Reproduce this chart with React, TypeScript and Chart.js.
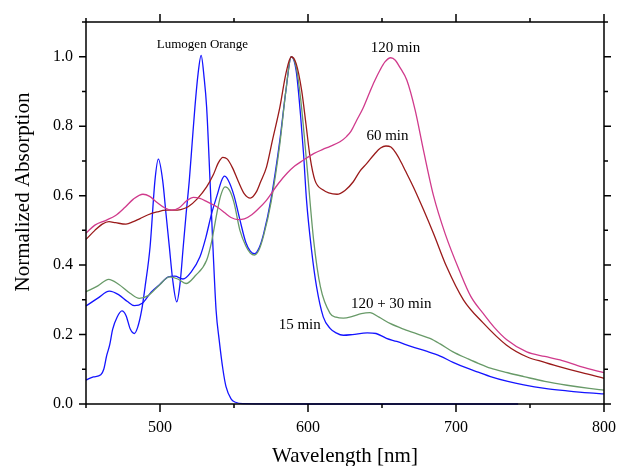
import React, { useEffect, useRef } from 'react';
import { Chart, registerables } from 'chart.js';

Chart.register(...registerables);

// ---- data (wavelength in nm, normalized absorption) ----
const lumogenWl = [450, 455, 460, 462, 464, 466, 468, 471, 474.3, 477, 480, 482.7, 485, 487.6, 490, 493.3, 496.6, 498.9, 501.8, 504, 506.3, 508.5, 511.3, 513.5, 515.7, 517.7, 519.8, 521.7, 523.6, 525.7, 527.8, 529.8, 531.5, 533.8, 535.8, 537.9, 540, 542.5, 544.6, 548, 551, 556, 600, 742];
const lumogenAbs = [0.069, 0.078, 0.084, 0.1, 0.14, 0.17, 0.215, 0.25, 0.268, 0.255, 0.215, 0.203, 0.222, 0.27, 0.34, 0.453, 0.644, 0.705, 0.644, 0.55, 0.453, 0.36, 0.294, 0.345, 0.453, 0.55, 0.644, 0.75, 0.855, 0.95, 1.004, 0.94, 0.855, 0.644, 0.45, 0.27, 0.184, 0.1, 0.05, 0.015, 0.005, 0.001, 0, 0];

const min15Wl = [450, 458, 465.8, 472, 478, 482.7, 488, 494, 500, 505.7, 510, 515.5, 521, 527, 531, 534.9, 538.5, 541.7, 543.5, 546, 550, 554, 558, 561, 563.8, 567, 570, 575, 581, 585, 588.7, 592, 595, 597, 599, 602.4, 605.8, 610.3, 614.9, 619, 623.9, 630, 640, 646, 653, 660, 670, 680, 689.3, 698, 707.6, 715, 723.3, 735, 745.8, 760, 775, 790, 800];
const min15Abs = [0.282, 0.305, 0.325, 0.315, 0.295, 0.283, 0.29, 0.322, 0.345, 0.366, 0.368, 0.36, 0.38, 0.424, 0.48, 0.549, 0.6, 0.644, 0.656, 0.645, 0.6, 0.53, 0.465, 0.44, 0.433, 0.45, 0.49, 0.59, 0.76, 0.9, 1.0, 0.96, 0.83, 0.72, 0.587, 0.443, 0.337, 0.251, 0.218, 0.205, 0.198, 0.2, 0.205, 0.203, 0.189, 0.18, 0.165, 0.152, 0.138, 0.12, 0.103, 0.092, 0.079, 0.065, 0.055, 0.045, 0.038, 0.032, 0.029];

const min150Wl = [450, 458, 465.3, 472, 480, 486, 492, 499, 506.4, 512, 517.6, 524, 531.5, 535, 538.4, 541, 544, 547, 550, 554, 558, 561, 563.8, 567, 570, 575, 581, 585, 588.7, 592, 595, 599, 603.8, 608.4, 614.9, 619, 623.9, 630, 636, 641.9, 648, 655.4, 665, 675, 682.4, 689.3, 698, 707.6, 715, 723.3, 735, 745.8, 760, 775, 790, 800];
const min150Abs = [0.323, 0.34, 0.359, 0.345, 0.318, 0.304, 0.312, 0.34, 0.366, 0.36, 0.347, 0.37, 0.414, 0.47, 0.549, 0.6, 0.625, 0.615, 0.58, 0.5, 0.455, 0.435, 0.429, 0.445, 0.485, 0.58, 0.75, 0.9, 1.0, 0.97, 0.88, 0.7, 0.472, 0.337, 0.261, 0.25, 0.247, 0.252, 0.26, 0.263, 0.25, 0.232, 0.215, 0.2, 0.189, 0.173, 0.15, 0.131, 0.117, 0.103, 0.09, 0.079, 0.065, 0.054, 0.045, 0.04];

const min60Wl = [450, 456, 461, 465.5, 470, 477, 482, 486.5, 492, 498, 504, 509, 514, 519, 525, 531.5, 536, 539.5, 542.5, 545.5, 549, 553, 557, 561, 565, 568, 572, 576, 581, 585, 588.7, 592, 595.7, 598.6, 601.4, 604.7, 610.3, 614, 619.6, 625, 630.6, 635, 639.6, 645, 649, 652.7, 656, 659, 662.2, 666, 671.2, 678, 684.8, 693.7, 705, 718, 734, 747.8, 760, 770.3, 785, 800];
const min60Abs = [0.474, 0.5, 0.518, 0.525, 0.522, 0.518, 0.525, 0.534, 0.545, 0.553, 0.558, 0.558, 0.56, 0.568, 0.59, 0.625, 0.66, 0.695, 0.71, 0.705, 0.68, 0.64, 0.605, 0.593, 0.61, 0.64, 0.683, 0.76, 0.855, 0.95, 1.0, 0.98, 0.903, 0.807, 0.711, 0.644, 0.616, 0.608, 0.604, 0.615, 0.64, 0.67, 0.692, 0.72, 0.737, 0.743, 0.74, 0.725, 0.702, 0.67, 0.625, 0.56, 0.491, 0.395, 0.3, 0.235, 0.17, 0.136, 0.12, 0.107, 0.09, 0.074];

const min120Wl = [450, 456, 463.5, 470, 476, 482, 488.5, 493, 498, 503, 508, 513, 518, 522.6, 527, 532, 538.4, 544, 548, 552.5, 557, 562, 566, 571.6, 580, 586, 591, 596.8, 603.8, 610, 615, 621.6, 626, 629, 632.9, 637, 641.9, 645, 648.6, 652, 655.9, 659, 662, 666.8, 672.4, 678, 684.8, 692.7, 702.7, 710, 718.5, 726, 734.3, 747.8, 760, 770.3, 785, 800];
const min120Abs = [0.492, 0.515, 0.529, 0.543, 0.565, 0.59, 0.604, 0.598, 0.58, 0.565, 0.558, 0.565, 0.585, 0.595, 0.592, 0.582, 0.568, 0.55, 0.537, 0.531, 0.533, 0.545, 0.56, 0.585, 0.635, 0.665, 0.685, 0.702, 0.721, 0.733, 0.742, 0.755, 0.77, 0.785, 0.817, 0.85, 0.9, 0.93, 0.961, 0.985, 0.997, 0.99, 0.97, 0.932, 0.846, 0.731, 0.6, 0.49, 0.38, 0.31, 0.26, 0.22, 0.185, 0.15, 0.137, 0.127, 0.107, 0.09];

const annotationTexts = ['Lumogen Orange', '120 min', '60 min', '120 + 30 min', '15 min'];
const annotationX = [528.7, 659.1, 653.7, 656.2, 594.4];
const annotationY = [1.025, 1.013, 0.76, 0.276, 0.215];
const annotationSizes = [13, 15, 15, 15, 15];

const yTitle = 'Normalized Absorption';
const xTitle = 'Wavelength [nm]';

const SERIF = "'Liberation Serif', 'Times New Roman', serif";

const toPts = (xs: number[], ys: number[]) => xs.map((x, i) => ({ x, y: ys[i] }));

const framePlugin = {
  id: 'frame',
  afterDraw(chart: any) {
    const { ctx, chartArea } = chart;
    const { left, right, top, bottom } = chartArea;
    const xs = chart.scales.x;
    const ys = chart.scales.y;
    ctx.save();
    ctx.strokeStyle = '#000';
    ctx.lineWidth = 1.5;
    ctx.beginPath();
    ctx.rect(left, top, right - left, bottom - top);
    xs.ticks.forEach((t: any) => {
      const px = xs.getPixelForValue(t.value);
      const major = Math.round(t.value) % 100 === 0;
      const len = major ? 8 : 4;
      ctx.moveTo(px, bottom);
      ctx.lineTo(px, bottom + len);
      ctx.moveTo(px, top);
      ctx.lineTo(px, top - len);
    });
    ys.ticks.forEach((t: any) => {
      const py = ys.getPixelForValue(t.value);
      const major = Math.round(t.value * 10) % 2 === 0;
      const len = major ? 7 : 4;
      ctx.moveTo(left, py);
      ctx.lineTo(left - len, py);
      ctx.moveTo(right, py);
      ctx.lineTo(right + len, py);
    });
    ctx.stroke();

    ctx.fillStyle = '#000';
    ctx.textAlign = 'center';
    ctx.textBaseline = 'alphabetic';
    annotationTexts.forEach((txt, i) => {
      ctx.font = `${annotationSizes[i]}px ${SERIF}`;
      ctx.fillText(txt, xs.getPixelForValue(annotationX[i]), ys.getPixelForValue(annotationY[i]));
    });

    // axis titles
    ctx.font = `21px ${SERIF}`;
    ctx.fillText(xTitle, (left + right) / 2, 462);
    ctx.translate(29, (top + bottom) / 2 - 21);
    ctx.rotate(-Math.PI / 2);
    ctx.fillText(yTitle, 0, 0);
    ctx.restore();
  },
};

export default function App() {
  const ref = useRef<HTMLCanvasElement | null>(null);

  useEffect(() => {
    if (!ref.current) return;
    const mk = (label: string, xs: number[], ys: number[], color: string) => ({
      label,
      data: toPts(xs, ys),
      borderColor: color,
      backgroundColor: color,
      borderWidth: 1.3,
      pointRadius: 0,
      fill: false,
      cubicInterpolationMode: 'monotone' as const,
      clip: false as const,
    });
    const chart = new Chart(ref.current, {
      type: 'line',
      data: {
        datasets: [
          mk('120 min', min120Wl, min120Abs, '#d03a8c'),
          mk('60 min', min60Wl, min60Abs, '#9a1a1a'),
          mk('120 + 30 min', min150Wl, min150Abs, '#689a68'),
          mk('15 min', min15Wl, min15Abs, '#1414ff'),
          mk('Lumogen Orange', lumogenWl, lumogenAbs, '#1414ff'),
        ],
      },
      options: {
        responsive: false,
        animation: false,
        events: [],
        layout: { padding: { top: 22, right: 13, left: 0, bottom: 0 } },
        plugins: { legend: { display: false }, tooltip: { enabled: false } },
        scales: {
          x: {
            type: 'linear',
            min: 450,
            max: 800,
            grid: { display: false, drawTicks: false },
            border: { display: false },
            ticks: {
              stepSize: 50,
              autoSkip: false,
              maxRotation: 0,
              padding: 14,
              color: '#000',
              font: { family: SERIF, size: 16 },
              callback: (v: any) => (Math.round(Number(v)) % 100 === 0 ? String(v) : ''),
            },
            afterFit: (s: any) => {
              s.height = 62;
              s.paddingLeft = 0;
              s.paddingRight = 0;
            },
          },
          y: {
            type: 'linear',
            min: 0,
            max: 1.1,
            grid: { display: false, drawTicks: false },
            border: { display: false },
            ticks: {
              stepSize: 0.1,
              autoSkip: false,
              padding: 13,
              color: '#000',
              font: { family: SERIF, size: 16 },
              callback: (v: any) => {
                const n = Math.round(Number(v) * 10);
                return n % 2 === 0 ? (n / 10).toFixed(1) : '';
              },
            },
            afterFit: (s: any) => {
              s.width = 86;
              s.paddingTop = 0;
              s.paddingBottom = 0;
            },
          },
        },
      },
      plugins: [framePlugin],
    });
    return () => chart.destroy();
  }, []);

  return (
    <div style={{ position: 'fixed', left: 0, top: 0, width: 617, height: 466, background: '#fff' }}>
      <canvas ref={ref} width={617} height={466} style={{ display: 'block' }} />
    </div>
  );
}
